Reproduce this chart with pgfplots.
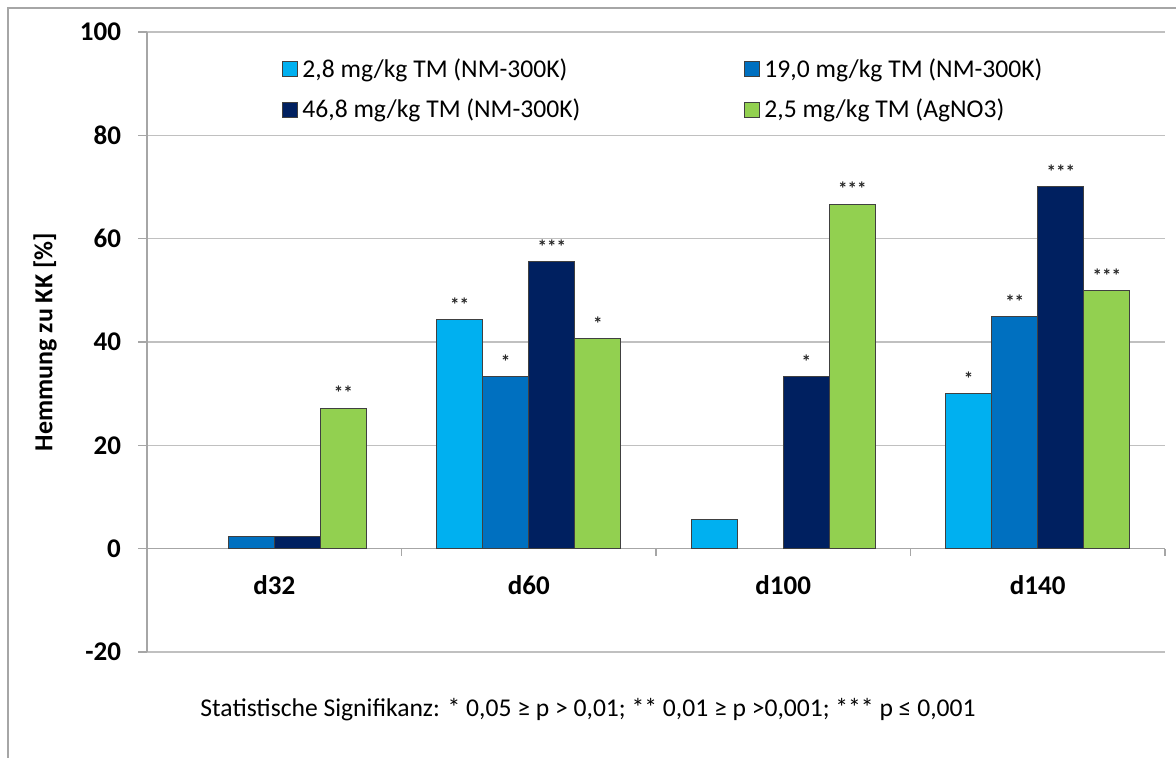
\documentclass[border=0pt]{standalone}
\usepackage{pgfplots}
\pgfplotsset{compat=1.18}
\usepackage{fontspec}
\setmainfont{Carlito}

\definecolor{cLight}{HTML}{00B0F0}
\definecolor{cMid}{HTML}{0070C0}
\definecolor{cNavy}{HTML}{002060}
\definecolor{cGreen}{HTML}{92D050}
\definecolor{gridgray}{HTML}{C0C0C0}
\definecolor{axisgray}{HTML}{A6A6A6}
\definecolor{edgegray}{HTML}{404040}

\begin{document}
\begin{tikzpicture}
\useasboundingbox (0,0) rectangle (588pt,379pt);
% outer chart frame
\draw[axisgray, line width=0.6pt] (4pt,0) -- (4pt,375pt) -- (588pt,375pt);
\begin{axis}[
  at={(73.5pt,53pt)}, anchor=south west,
  scale only axis, width=509pt, height=310pt,
  xmin=-0.5, xmax=3.5, ymin=-20, ymax=100,
  axis x line*=middle, axis y line*=left,
  hide obscured x ticks=false, hide obscured y ticks=false,
  axis line style={axisgray, line width=0.6pt},
  ymajorgrids, grid style={gridgray, line width=0.6pt},
  ytick={-20,0,20,40,60,80,100},
  yticklabels={-20,0,20,40,60,80,100},
  xtick={0,1,2,3}, xticklabels={d32,d60,d100,d140},
  minor xtick={0.5,1.5,2.5,3.5},
  tick align=outside,
  major tick length=4.5pt, minor tick length=3.5pt,
  major x tick style={draw=none},
  minor x tick style={axisgray, line width=0.6pt},
  major y tick style={axisgray, line width=0.6pt},
  ticklabel style={font=\bfseries\fontsize{13.5}{15}\selectfont},
  xticklabel style={anchor=center, yshift=-13.5pt},
  yticklabel style={xshift=-5pt},
  ylabel={Hemmung zu KK [\%]},
  every axis y label/.style={at={(axis description cs:-0.1002,0.5)}, anchor=center, rotate=90, font=\bfseries\fontsize{13}{15}\selectfont},
  ybar, bar width=0.181,
  every axis plot/.append style={draw=edgegray, line width=0.5pt},
  point meta=explicit symbolic,
  nodes near coords,
  every node near coord/.append style={font=\bfseries\fontsize{9.5}{9}\selectfont, text=black!85, anchor=center, yshift=7.5pt},
  legend columns=2,
  legend cell align=left,
  legend image code/.code={\draw[#1, draw=edgegray, line width=0.5pt] (0pt,-3.75pt) rectangle (7.5pt,3.75pt);},
  legend style={at={(64.5pt,301pt)}, anchor=north west, draw=none, fill=none,
    font=\fontsize{12.8}{15}\selectfont, row sep=5.5pt,
    /tikz/every even column/.append style={column sep=80pt}},
]
\addplot[fill=cLight, bar shift=-0.2715] coordinates {(1,44.4) [**] (2,5.6) [] (3,30.0) [*]};
\addplot[fill=cMid, bar shift=-0.0905] coordinates {(0,2.3) [] (1,33.3) [*] (3,44.9) [**]};
\addplot[fill=cNavy, bar shift=0.0905] coordinates {(0,2.3) [] (1,55.5) [***] (2,33.3) [*] (3,70.0) [***]};
\addplot[fill=cGreen, bar shift=0.2715] coordinates {(0,27.2) [**] (1,40.7) [*] (2,66.7) [***] (3,50.0) [***]};
\legend{{2,8 mg/kg TM (NM-300K)}, {19,0 mg/kg TM (NM-300K)}, {46,8 mg/kg TM (NM-300K)}, {2,5 mg/kg TM (AgNO3)}}
\end{axis}
\node[font=\fontsize{12.8}{15}\selectfont] at (294pt,24pt) {Statistische Signifikanz: * 0,05 ≥ p > 0,01; ** 0,01 ≥ p >0,001; *** p ≤ 0,001};
\end{tikzpicture}
\end{document}
